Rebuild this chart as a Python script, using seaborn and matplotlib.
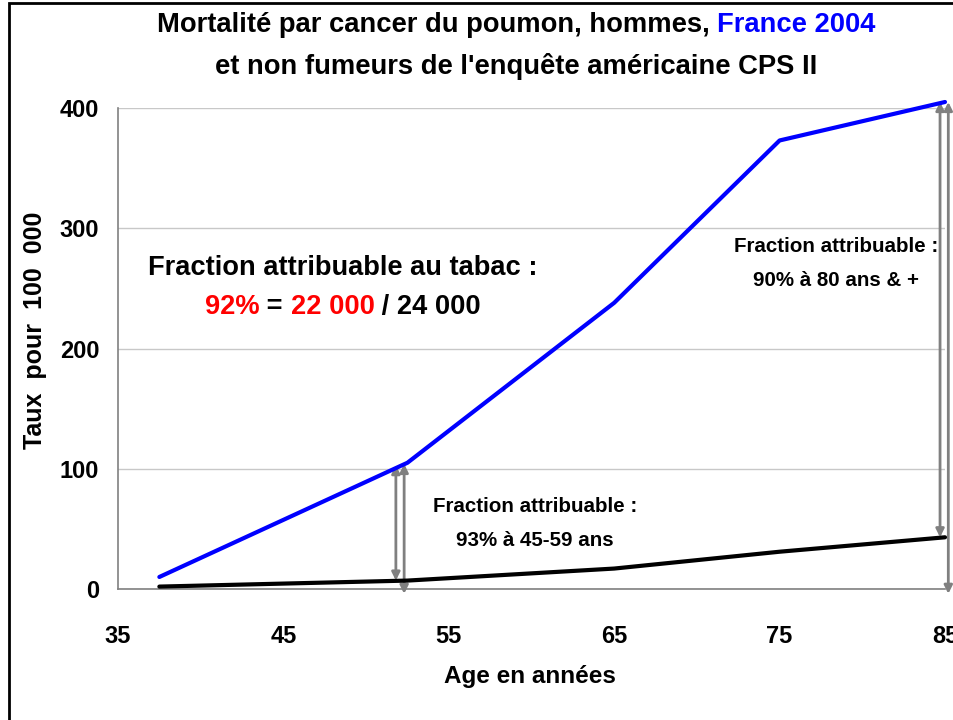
import matplotlib
matplotlib.use("Agg")
import matplotlib.pyplot as plt
import seaborn as sns
import pandas as pd
from matplotlib.patches import Rectangle

# data
ages = [37.5, 52.5, 65, 75, 85]
france_2004 = [10, 105, 238, 373, 405]
cps2_nonsmokers = [2, 7, 17, 31, 43]
xticks = [35, 45, 55, 65, 75, 85]
yticks = [0, 100, 200, 300, 400]

sns.set_style("white")
plt.rcParams["font.family"] = ["Liberation Sans", "DejaVu Sans"]
plt.rcParams["font.weight"] = "bold"
plt.rcParams["text.color"] = "black"
plt.rcParams["xtick.labelcolor"] = "black"
plt.rcParams["ytick.labelcolor"] = "black"
plt.rcParams["axes.labelcolor"] = "black"

df = pd.DataFrame({"age": ages, "france": france_2004, "cps": cps2_nonsmokers})

fig = plt.figure(figsize=(9.54, 7.2), dpi=100)
ax = fig.add_axes([118 / 954, 1 - 589 / 720, (945 - 118) / 954, (589 - 108) / 720])

sns.lineplot(data=df, x="age", y="france", color="#0000ff", lw=3, ax=ax, clip_on=False, zorder=5)
sns.lineplot(data=df, x="age", y="cps", color="black", lw=3, ax=ax, clip_on=False, zorder=5)

ax.set_xlim(35, 85)
ax.set_ylim(0, 400)
ax.set_xticks(xticks)
ax.set_yticks(yticks)
ax.set_xticklabels([str(t) for t in xticks], fontsize=17, fontweight="bold")
ax.set_yticklabels([str(t) for t in yticks], fontsize=17, fontweight="bold")
ax.tick_params(axis="both", direction="out", length=8, width=1, color="#808080")
ax.tick_params(axis="x", pad=18)
ax.tick_params(axis="y", pad=5.5)
ax.yaxis.grid(True, color="#c8c8c8", lw=1)
ax.set_axisbelow(True)
for s in ["top", "right"]:
    ax.spines[s].set_visible(False)
for s in ["left", "bottom"]:
    ax.spines[s].set_color("#808080")
    ax.spines[s].set_linewidth(1.2)

ax.set_xlabel("Age en années", fontsize=17.5, fontweight="bold")
ax.xaxis.set_label_coords((530 - 118) / 827, -(677 - 589) / 481)
ax.xaxis.label.set_va("center")
ax.set_ylabel("Taux  pour  100  000", fontsize=18, fontweight="bold")
ax.yaxis.set_label_coords((35 - 118) / 827, (589 - 330) / 481)
ax.yaxis.label.set_va("center")

# grey double arrows between the two curves
arr = dict(arrowstyle="<|-|>", color="#808080", lw=2, mutation_scale=12, shrinkA=0, shrinkB=0)
ax.annotate("", xy=(ages[1] - 0.7, cps2_nonsmokers[1]), xytext=(ages[1] - 0.7, france_2004[1] - 2),
            arrowprops=arr, annotation_clip=False)
ax.annotate("", xy=(ages[1] - 0.2, -4), xytext=(ages[1] - 0.2, france_2004[1] - 1),
            arrowprops=arr, annotation_clip=False)
ax.annotate("", xy=(ages[-1] - 0.3, cps2_nonsmokers[-1]), xytext=(ages[-1] - 0.3, france_2004[-1]),
            arrowprops=arr, annotation_clip=False)
ax.annotate("", xy=(ages[-1] + 0.2, -4), xytext=(ages[-1] + 0.2, france_2004[-1]),
            arrowprops=arr, annotation_clip=False)

ax.text(60.2, 54.5, "Fraction attribuable :\n93% à 45-59 ans", ha="center", va="center",
        fontsize=14.8, fontweight="bold", linespacing=2.0)
ax.text(78.4, 270.7, "Fraction attribuable :\n90% à 80 ans & +", ha="center", va="center",
        fontsize=14.8, fontweight="bold", linespacing=2.0)

renderer = fig.canvas.get_renderer()


def colored_line(y_px, parts, size, cx_px):
    # place coloured pieces side by side, centred on cx_px (pixels from left)
    texts = []
    for s, c in parts:
        t = fig.text(0, 1 - y_px / 720, s, color=c, fontsize=size, fontweight="bold",
                     ha="left", va="center")
        texts.append(t)
    widths = [t.get_window_extent(renderer).width for t in texts]
    x = cx_px - sum(widths) / 2
    for t, w in zip(texts, widths):
        t.set_x(x / 954)
        x += w


colored_line(25, [("Mortalité par cancer du poumon, hommes, ", "black"), ("France 2004", "#0000ff")], 19.7, 516)
colored_line(67, [("et non fumeurs de l'enquête américaine CPS II", "black")], 19.7, 516)
colored_line(268, [("Fraction attribuable au tabac :", "black")], 19.6, 343)
colored_line(307, [("92%", "#ff0000"), (" = ", "black"), ("22 000", "#ff0000"), (" / 24 000", "black")], 19.6, 343)

# outer frame of the slide
fig.patches.append(Rectangle((9 / 954, -0.1), 1.1, 1.1 - 3 / 720, transform=fig.transFigure,
                             fill=False, edgecolor="black", lw=2))

fig.savefig("out.png", dpi=100)
